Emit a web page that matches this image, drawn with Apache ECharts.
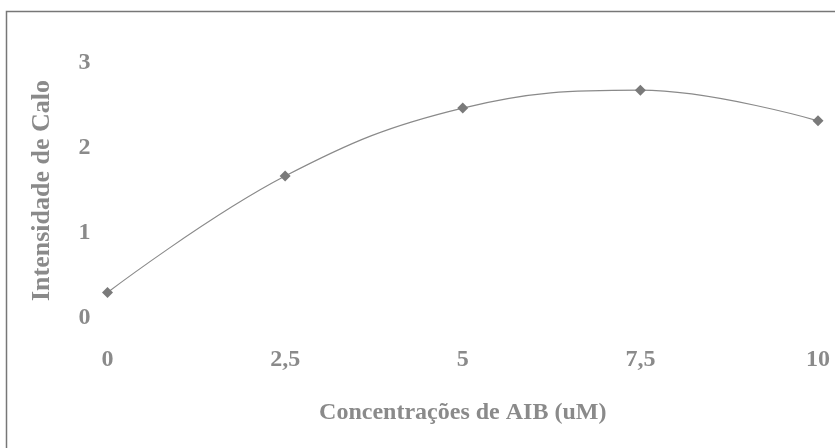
<!DOCTYPE html>
<html><head><meta charset="utf-8">
<script src="https://cdn.jsdelivr.net/npm/echarts@6/dist/echarts.min.js"></script>
<style>html,body{margin:0;padding:0;background:#fff}#c{width:835px;height:448px}</style>
</head><body><div id="c"></div>
<script>
const concentrations = [0, 2.5, 5, 7.5, 10];
const intensity = [0.30, 1.67, 2.47, 2.68, 2.32];
const xTicks = [0, 2.5, 5, 7.5, 10];
const yTicks = [0, 1, 2, 3];

const chart = echarts.init(document.getElementById('c'));
const font = '"Liberation Serif", "DejaVu Serif", serif';
chart.setOption({
  animation: false,
  backgroundColor: '#fff',
  graphic: [{
    type: 'rect', shape: {x: 6.5, y: 11.5, width: 840, height: 460},
    style: {fill: 'none', stroke: '#777', lineWidth: 1.5}, silent: true
  }],
  grid: {left: 107.5, right: 17, top: 63, bottom: 130},
  xAxis: {
    type: 'value', min: 0, max: 10, interval: 2.5,
    name: 'Concentrações de AIB (uM)', nameLocation: 'middle', nameGap: 83,
    nameTextStyle: {fontFamily: font, fontWeight: 'bold', fontSize: 24, color: '#8a8a8a'},
    axisLine: {show: false}, axisTick: {show: false}, splitLine: {show: false},
    axisLabel: {margin: 30, fontFamily: font, fontWeight: 'bold', fontSize: 24, color: '#8a8a8a',
      formatter: v => xTicks.includes(v) ? String(v).replace('.', ',') : ''}
  },
  yAxis: {
    type: 'value', min: 0, max: 3, interval: 1,
    name: 'Intensidade de Calo', nameLocation: 'middle', nameGap: 52,
    nameTextStyle: {fontFamily: font, fontWeight: 'bold', fontSize: 26, color: '#8a8a8a'},
    axisLine: {show: false}, axisTick: {show: false}, splitLine: {show: false},
    axisLabel: {margin: 17, fontFamily: font, fontWeight: 'bold', fontSize: 24, color: '#8a8a8a',
      formatter: v => yTicks.includes(v) ? String(v) : ''}
  },
  series: [{
    type: 'line',
    data: concentrations.map((x, i) => [x, intensity[i]]),
    smooth: 0.4,
    symbol: 'diamond', symbolSize: 11,
    itemStyle: {color: '#7a7a7a'},
    lineStyle: {color: '#8a8a8a', width: 1.2}
  }]
});
</script></body></html>
